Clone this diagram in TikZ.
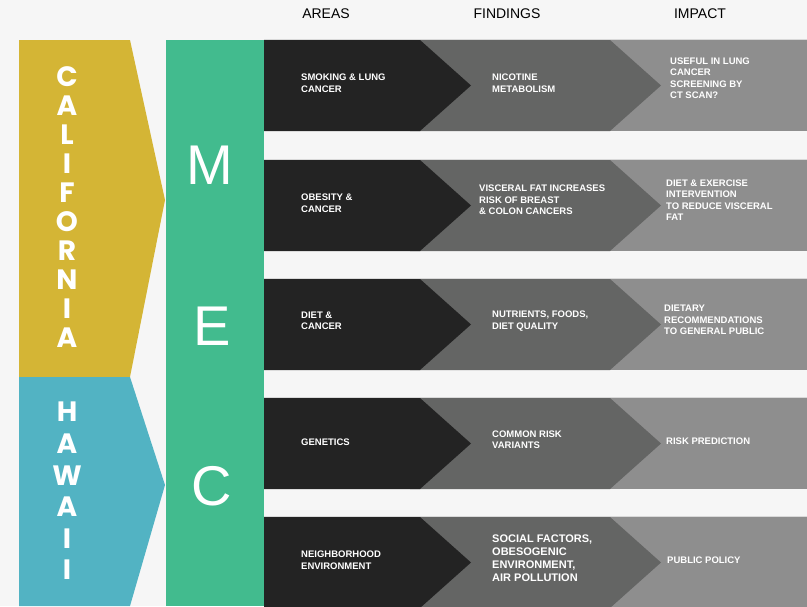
\documentclass[tikz,border=0pt]{standalone}
\usepackage{fontspec}
\setmainfont{Liberation Sans}
\newfontfamily\bannerfont{Poppins}
\definecolor{bgwhite}{HTML}{F6F6F6}
\definecolor{gold}{HTML}{D4B535}
\definecolor{sky}{HTML}{52B3C3}
\definecolor{mecgreen}{HTML}{42BB8E}
\definecolor{areablack}{HTML}{232323}
\definecolor{findgray}{HTML}{646564}
\definecolor{impactgray}{HTML}{8E8E8E}

\begin{document}
\begin{tikzpicture}[x=1pt, y=-1pt,
    txt/.style={text=white, font=\bfseries\fontsize{9.5}{11.5}\selectfont, anchor=west, align=left, inner sep=0pt},
    hdr/.style={text=black, font=\fontsize{14}{14}\selectfont, inner sep=0pt},
    letter/.style={text=white, font=\bannerfont\bfseries\fontsize{28}{28}\selectfont, inner sep=0pt},
    mec/.style={text=white, font=\fontsize{56}{56}\selectfont, inner sep=0pt}]
    \useasboundingbox (0,0) rectangle (807,606);
    \fill[bgwhite] (0,0) rectangle (807,606);

    % Column headers
    \node[hdr] (areas) at (326,14) {AREAS};
    \node[hdr] (findings) at (507,14) {FINDINGS};
    \node[hdr] (impact) at (700,14) {IMPACT};

    % State banners
    \fill[gold] (19,40) -- (130,40) -- (165,200) -- (130,377) -- (19,377) -- cycle;
    \fill[sky] (19,377) -- (130,377) -- (165,485) -- (130,606) -- (19,606) -- cycle;
    \foreach \l [count=\i from 0] in {C,A,L,I,F,O,R,N,I,A}
        \node[letter] (cal\i) at (67,77+29*\i) {\l};
    \foreach \l [count=\i from 0] in {H,A,W,A,I,I}
        \node[letter] (haw\i) at (67,412+31.6*\i) {\l};

    % MEC column
    \fill[mecgreen] (166,40) rectangle (264,606);
    \node[mec] (m) at (210,165) {M};
    \node[mec] (e) at (212,326) {E};
    \node[mec] (c) at (212,486) {C};

    % Rows of chevrons
    \foreach \t in {40,160,279,398,517} {
        \fill[impactgray] (600,\t) rectangle (807,\t+91);
        \fill[findgray] (410,\t) -- (610,\t) -- (661,\t+45.5) -- (610,\t+91) -- (410,\t+91) -- cycle;
        \fill[areablack] (264,\t) -- (420,\t) -- (471,\t+45.5) -- (420,\t+91) -- (264,\t+91) -- cycle;
        \draw[gray!30, line width=1pt] (264,\t-0.5) -- (807,\t-0.5);
    }

    % Areas
    \node[txt] (area1) at (301,83) {SMOKING \& LUNG\\CANCER};
    \node[txt] (area2) at (301,203) {OBESITY \&\\CANCER};
    \node[txt] (area3) at (301,321) {DIET \&\\CANCER};
    \node[txt] (area4) at (301,442) {GENETICS};
    \node[txt] (area5) at (301,560) {NEIGHBORHOOD\\ENVIRONMENT};

    % Findings
    \node[txt] (find1) at (492,83) {NICOTINE\\METABOLISM};
    \node[txt] (find2) at (479,200) {VISCERAL FAT INCREASES\\RISK OF BREAST\\\& COLON CANCERS};
    \node[txt] (find3) at (492,321) {NUTRIENTS, FOODS,\\DIET QUALITY};
    \node[txt] (find4) at (492,439.5) {COMMON RISK\\VARIANTS};
    \node[txt, font=\bfseries\fontsize{11}{13}\selectfont] (find5) at (492,558.5) {SOCIAL FACTORS,\\OBESOGENIC\\ENVIRONMENT,\\AIR POLLUTION};

    % Impact
    \node[txt] (imp1) at (670,78) {USEFUL IN LUNG\\CANCER\\SCREENING BY\\CT SCAN?};
    \node[txt] (imp2) at (666,200) {DIET \& EXERCISE\\INTERVENTION\\TO REDUCE VISCERAL\\FAT};
    \node[txt] (imp3) at (664,320) {DIETARY\\RECOMMENDATIONS\\TO GENERAL PUBLIC};
    \node[txt] (imp4) at (666,441) {RISK PREDICTION};
    \node[txt] (imp5) at (667,560) {PUBLIC POLICY};
\end{tikzpicture}
\end{document}
